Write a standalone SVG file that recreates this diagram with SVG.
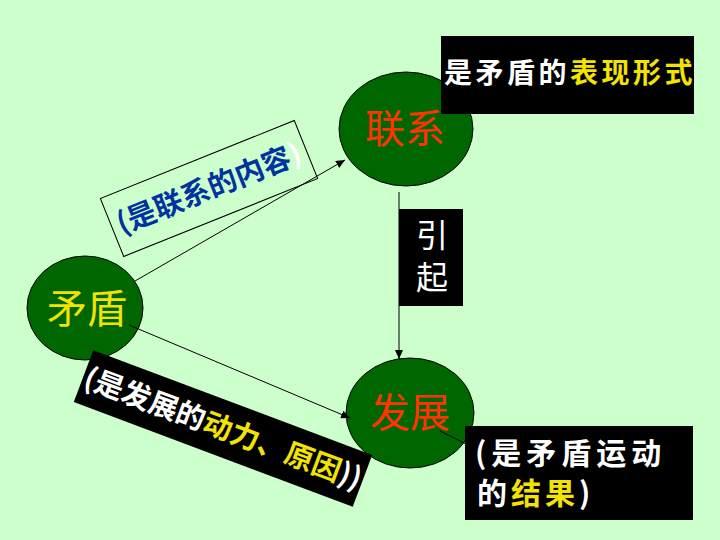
<svg xmlns="http://www.w3.org/2000/svg" width="720" height="540" viewBox="0 0 720 540">
<defs>
<marker id="arr" markerUnits="userSpaceOnUse" markerWidth="10" markerHeight="8" refX="9" refY="4" orient="auto">
<path d="M0,0 L9,4 L0,8 Z" fill="#000"/>
</marker>
<style>
.node ellipse{fill:#006600;stroke:#000;stroke-width:1}
.cjk{font-family:"Noto Sans CJK SC","Noto Sans",sans-serif}
.nt{font-size:40px;text-anchor:middle}
.conn line{stroke:#000;stroke-width:1;fill:none}
.box{fill:#000}
.w{fill:#fff}
.y{fill:#f2e400}
</style>
</defs>
<rect width="720" height="540" fill="#ccffcc"/>

<g id="node-maodun" class="node">
<ellipse cx="85" cy="308" rx="58" ry="52"/>
<text class="cjk nt" x="87" y="323" font-size="39" fill="#f2e400">矛盾</text>
</g>
<g id="node-lianxi" class="node">
<ellipse cx="406" cy="129" rx="67" ry="57"/>
<text class="cjk nt" x="405" y="143" fill="#ff3300">联系</text>
</g>
<g id="node-fazhan" class="node">
<ellipse cx="410" cy="413" rx="64" ry="55"/>
<text class="cjk nt" x="410" y="427" fill="#ff3300">发展</text>
</g>

<g id="connectors" class="conn">
<line x1="135" y1="281" x2="345" y2="160" marker-end="url(#arr)"/>
<line x1="129" y1="325" x2="350" y2="418" marker-end="url(#arr)"/>
<line x1="399" y1="192" x2="399" y2="359" marker-end="url(#arr)"/>
<line x1="440" y1="431" x2="466" y2="444"/>
</g>

<g id="label-content" transform="translate(209,188.5) rotate(-21.9)">
<rect x="-104.5" y="-31.3" width="209" height="62.6" fill="none" stroke="#000" stroke-width="1"/>
<text class="cjk" x="0" y="10" text-anchor="middle" font-size="29" font-weight="bold" fill="#0033a0">(是联系的内容<tspan class="w">)</tspan></text>
</g>

<g id="label-motive" transform="translate(223,428.5) rotate(20.6)">
<rect class="box" x="-149" y="-27.7" width="298" height="55.4"/>
<text class="cjk" x="0" y="10" text-anchor="middle" font-size="29" font-weight="bold"><tspan class="w">(是发展的</tspan><tspan class="y">动力、原因</tspan><tspan class="w">))</tspan></text>
</g>

<g id="label-form">
<rect class="box" x="441" y="36" width="253" height="78"/>
<text class="cjk" x="444" y="83" font-size="28" font-weight="bold" letter-spacing="3.5"><tspan class="w">是矛盾的</tspan><tspan class="y">表现形式</tspan></text>
</g>

<g id="label-result">
<rect class="box" x="465" y="426" width="228" height="94"/>
<text class="cjk" x="475" y="464" font-size="30" font-weight="bold" letter-spacing="5"><tspan class="w">(是矛盾运动</tspan></text>
<text class="cjk" x="477" y="504" font-size="30" font-weight="bold" letter-spacing="4"><tspan class="w">的</tspan><tspan class="y">结果</tspan><tspan class="w">)</tspan></text>
</g>

<g id="label-cause">
<rect class="box" x="399" y="209" width="64" height="97"/>
<text class="cjk w" x="432" y="247" font-size="32" text-anchor="middle">引</text>
<text class="cjk w" x="432" y="289" font-size="32" text-anchor="middle">起</text>
</g>
</svg>
